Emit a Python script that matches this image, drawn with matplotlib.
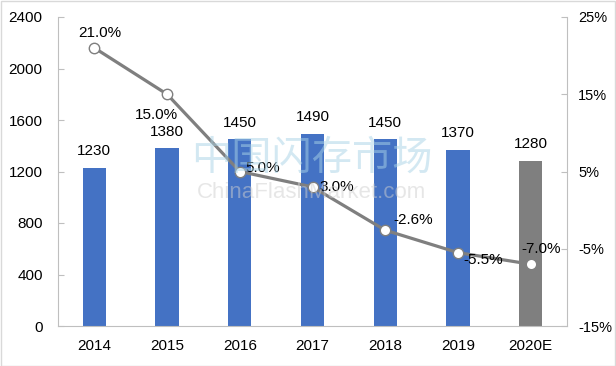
import matplotlib
matplotlib.use("Agg")
import matplotlib.pyplot as plt
from matplotlib.patches import Rectangle

plt.rcParams['font.family'] = ['Liberation Sans', 'Noto Sans CJK SC', 'DejaVu Sans']

categories = ['2014', '2015', '2016', '2017', '2018', '2019', '2020E']
volumes = [1230, 1380, 1450, 1490, 1450, 1370, 1280]
growth = [21.0, 15.0, 5.0, 3.0, -2.6, -5.5, -7.0]
left_ticks = [0, 400, 800, 1200, 1600, 2000, 2400]
right_ticks = [-15, -5, 5, 15, 25]
bar_colors = ['#4472C4'] * 6 + ['#7F7F7F']

# label offsets in pixels (dx, dy) relative to the marker, and alignment
growth_label_offsets = [(5, 15, 'center'), (-11, -21, 'center'), (6, 4, 'left'),
                        (7, 0, 'left'), (8, 10, 'left'), (5, -7, 'left'), (-9, 15, 'left')]

DPI = 100
fig = plt.figure(figsize=(6.16, 3.66), dpi=DPI)
ax = fig.add_axes([58/616, 40/366, (567-58)/616, (326-17)/366])
ax2 = ax.twinx()

x = list(range(len(categories)))
ax.bar(x, volumes, width=0.32, color=bar_colors, zorder=2)
ax.set_xlim(-0.5, len(categories) - 0.5)
ax.set_ylim(0, 2400)
ax.set_yticks(left_ticks)
ax.set_xticks(x)
ax.set_xticklabels(categories)

for xi, v in zip(x, volumes):
    ax.annotate(f'{v}', (xi, v), xytext=(0, 7), textcoords='offset points',
                ha='center', va='bottom', fontsize=11, color='#000000')

ax2.plot(x, growth, color='#7F7F7F', lw=2.3, marker='o', ms=7.5,
         mfc='white', mec='#7F7F7F', mew=1.0, zorder=3)
ax2.set_ylim(-15, 25)
ax2.set_yticks(right_ticks)
ax2.set_yticklabels([f'{t}%' for t in right_ticks])

for xi, g, (dx, dy, ha) in zip(x, growth, growth_label_offsets):
    ax2.annotate(f'{g:.1f}%', (xi, g), xytext=(dx*0.72, dy*0.72), textcoords='offset points',
                 ha=ha, va='center', fontsize=11, color='#000000')

spine_c = '#BFBFBF'
for a in (ax, ax2):
    for s in a.spines.values():
        s.set_visible(False)
    a.tick_params(colors='#000000', labelsize=11, length=4, color=spine_c)
ax.spines['left'].set_visible(True)
ax.spines['left'].set_color(spine_c)
ax.spines['bottom'].set_visible(True)
ax.spines['bottom'].set_color(spine_c)
ax2.spines['right'].set_visible(True)
ax2.spines['right'].set_color(spine_c)
ax.tick_params(axis='x', length=0, pad=9)
ax.tick_params(axis='y', direction='in', pad=11)
ax2.tick_params(axis='y', direction='in', pad=8, labelsize=10.5)

# watermark
fig.text(312/616, 1 - 158/366, '中国闪存市场', fontsize=29, color='#A9D3E6', alpha=0.5,
         ha='center', va='center', family=['Noto Sans CJK SC'], zorder=10)
fig.text(312/616, 1 - 192/366, 'ChinaFlashMarket.com', fontsize=16, color='#CFCFCF', alpha=0.5,
         ha='center', va='center', zorder=10)

fig.patches.append(Rectangle((0.5/616, 0.5/366), 1 - 1.5/616, 1 - 1.5/366, transform=fig.transFigure,
                             fill=False, edgecolor='#D9D9D9', lw=1))

fig.savefig('out.png', dpi=DPI, facecolor='white')
